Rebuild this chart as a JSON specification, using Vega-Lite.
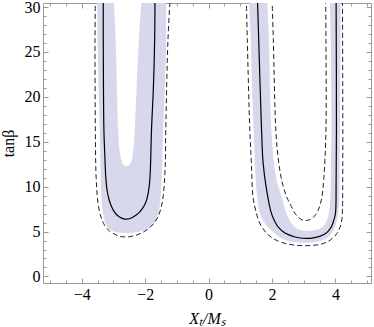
{
  "$schema": "https://vega.github.io/schema/vega-lite/v6.json",
  "width": 328,
  "height": 280,
  "autosize": {"type": "none"},
  "padding": {"left": 43, "top": 3, "right": 3, "bottom": 44},
  "background": "white",
  "config": {
    "view": {"stroke": "#9a9a9a", "strokeWidth": 1},
    "axis": {
      "domain": false,
      "grid": false,
      "tickColor": "#9a9a9a",
      "labelFont": "Liberation Serif",
      "labelFontSize": 16,
      "labelColor": "black",
      "titleFont": "Liberation Serif",
      "titleFontSize": 16,
      "titleColor": "black",
      "titleFontWeight": "normal"
    }
  },
  "datasets": {
    "shade": [
      {"g": "L", "t": 4.83, "xl": -2.62, "xr": -2.62},
      {"g": "L", "t": 4.86, "xl": -2.78, "xr": -2.44},
      {"g": "L", "t": 4.95, "xl": -2.92, "xr": -2.26},
      {"g": "L", "t": 5.1, "xl": -3.04, "xr": -2.08},
      {"g": "L", "t": 5.3, "xl": -3.13, "xr": -1.93},
      {"g": "L", "t": 5.6, "xl": -3.2, "xr": -1.81},
      {"g": "L", "t": 6.0, "xl": -3.26, "xr": -1.71},
      {"g": "L", "t": 6.5, "xl": -3.3, "xr": -1.64},
      {"g": "L", "t": 7.06, "xl": -3.33, "xr": -1.58},
      {"g": "L", "t": 8.9, "xl": -3.38, "xr": -1.51},
      {"g": "L", "t": 12, "xl": -3.41, "xr": -1.47},
      {"g": "L", "t": 16.3, "xl": -3.43, "xr": -1.43},
      {"g": "L", "t": 21, "xl": -3.47, "xr": -1.38},
      {"g": "L", "t": 26.4, "xl": -3.5, "xr": -1.34},
      {"g": "L", "t": 31, "xl": -3.51, "xr": -1.34},
      {"g": "R", "t": 3.75, "xl": 3.03, "xr": 3.03},
      {"g": "R", "t": 3.78, "xl": 2.8, "xr": 3.25},
      {"g": "R", "t": 3.88, "xl": 2.6, "xr": 3.45},
      {"g": "R", "t": 4.05, "xl": 2.43, "xr": 3.6},
      {"g": "R", "t": 4.25, "xl": 2.3, "xr": 3.72},
      {"g": "R", "t": 4.5, "xl": 2.18, "xr": 3.81},
      {"g": "R", "t": 4.8, "xl": 2.08, "xr": 3.88},
      {"g": "R", "t": 5.2, "xl": 1.95, "xr": 3.94},
      {"g": "R", "t": 5.6, "xl": 1.84, "xr": 3.99},
      {"g": "R", "t": 6.2, "xl": 1.73, "xr": 4.04},
      {"g": "R", "t": 7.0, "xl": 1.62, "xr": 4.08},
      {"g": "R", "t": 8.9, "xl": 1.53, "xr": 4.12},
      {"g": "R", "t": 12, "xl": 1.47, "xr": 4.13},
      {"g": "R", "t": 16.3, "xl": 1.42, "xr": 4.14},
      {"g": "R", "t": 22, "xl": 1.36, "xr": 4.15},
      {"g": "R", "t": 26.4, "xl": 1.33, "xr": 4.16},
      {"g": "R", "t": 31, "xl": 1.27, "xr": 4.16}
    ],
    "hole": [
      {"g": "L", "t": 12.3, "xl": -2.59, "xr": -2.59},
      {"g": "L", "t": 12.35, "xl": -2.65, "xr": -2.53},
      {"g": "L", "t": 12.5, "xl": -2.7, "xr": -2.48},
      {"g": "L", "t": 12.8, "xl": -2.74, "xr": -2.44},
      {"g": "L", "t": 13.6, "xl": -2.79, "xr": -2.39},
      {"g": "L", "t": 16.3, "xl": -2.85, "xr": -2.33},
      {"g": "L", "t": 21, "xl": -2.89, "xr": -2.27},
      {"g": "L", "t": 26.4, "xl": -2.93, "xr": -2.2},
      {"g": "L", "t": 31, "xl": -2.99, "xr": -2.11},
      {"g": "R", "t": 5.1, "xl": 3.12, "xr": 3.12},
      {"g": "R", "t": 5.13, "xl": 2.98, "xr": 3.28},
      {"g": "R", "t": 5.22, "xl": 2.86, "xr": 3.42},
      {"g": "R", "t": 5.4, "xl": 2.76, "xr": 3.54},
      {"g": "R", "t": 5.7, "xl": 2.66, "xr": 3.64},
      {"g": "R", "t": 6.1, "xl": 2.58, "xr": 3.71},
      {"g": "R", "t": 7.0, "xl": 2.46, "xr": 3.79},
      {"g": "R", "t": 8.9, "xl": 2.3, "xr": 3.84},
      {"g": "R", "t": 10.8, "xl": 2.14, "xr": 3.85},
      {"g": "R", "t": 16.3, "xl": 1.98, "xr": 3.87},
      {"g": "R", "t": 26.4, "xl": 1.9, "xr": 3.85},
      {"g": "R", "t": 31, "xl": 1.85, "xr": 3.82}
    ],
    "solid": [
      {"g": "L", "i": 1, "x": -3.32, "t": 31},
      {"g": "L", "i": 2, "x": -3.32, "t": 26.4},
      {"g": "L", "i": 3, "x": -3.3, "t": 16.3},
      {"g": "L", "i": 4, "x": -3.27, "t": 13.4},
      {"g": "L", "i": 5, "x": -3.24, "t": 11},
      {"g": "L", "i": 6, "x": -3.2, "t": 9.6},
      {"g": "L", "i": 7, "x": -3.14, "t": 8.6},
      {"g": "L", "i": 8, "x": -3.06, "t": 7.8},
      {"g": "L", "i": 9, "x": -2.97, "t": 7.2},
      {"g": "L", "i": 10, "x": -2.86, "t": 6.75},
      {"g": "L", "i": 11, "x": -2.74, "t": 6.5},
      {"g": "L", "i": 12, "x": -2.62, "t": 6.39},
      {"g": "L", "i": 13, "x": -2.48, "t": 6.45},
      {"g": "L", "i": 14, "x": -2.34, "t": 6.7},
      {"g": "L", "i": 15, "x": -2.21, "t": 7.05},
      {"g": "L", "i": 16, "x": -2.1, "t": 7.5},
      {"g": "L", "i": 17, "x": -2.01, "t": 8.0},
      {"g": "L", "i": 18, "x": -1.94, "t": 8.7},
      {"g": "L", "i": 19, "x": -1.88, "t": 9.8},
      {"g": "L", "i": 20, "x": -1.84, "t": 11.5},
      {"g": "L", "i": 21, "x": -1.8, "t": 16.3},
      {"g": "L", "i": 22, "x": -1.74, "t": 21},
      {"g": "L", "i": 23, "x": -1.7, "t": 26.4},
      {"g": "L", "i": 24, "x": -1.69, "t": 31},
      {"g": "R", "i": 1, "x": 1.54, "t": 31},
      {"g": "R", "i": 2, "x": 1.58, "t": 26.4},
      {"g": "R", "i": 3, "x": 1.67, "t": 16.3},
      {"g": "R", "i": 4, "x": 1.72, "t": 12.6},
      {"g": "R", "i": 5, "x": 1.83, "t": 9.6},
      {"g": "R", "i": 6, "x": 1.98, "t": 7.02},
      {"g": "R", "i": 7, "x": 2.12, "t": 5.9},
      {"g": "R", "i": 8, "x": 2.22, "t": 5.4},
      {"g": "R", "i": 9, "x": 2.34, "t": 5.0},
      {"g": "R", "i": 10, "x": 2.5, "t": 4.68},
      {"g": "R", "i": 11, "x": 2.7, "t": 4.42},
      {"g": "R", "i": 12, "x": 2.9, "t": 4.28},
      {"g": "R", "i": 13, "x": 3.1, "t": 4.24},
      {"g": "R", "i": 14, "x": 3.3, "t": 4.3},
      {"g": "R", "i": 15, "x": 3.5, "t": 4.46},
      {"g": "R", "i": 16, "x": 3.66, "t": 4.72},
      {"g": "R", "i": 17, "x": 3.78, "t": 5.08},
      {"g": "R", "i": 18, "x": 3.88, "t": 5.6},
      {"g": "R", "i": 19, "x": 3.95, "t": 6.3},
      {"g": "R", "i": 20, "x": 4.0, "t": 7.02},
      {"g": "R", "i": 21, "x": 4.02, "t": 10.7},
      {"g": "R", "i": 22, "x": 4.03, "t": 16.3},
      {"g": "R", "i": 23, "x": 4.02, "t": 31}
    ],
    "dashed": [
      {"g": "L", "i": 1, "x": -3.57, "t": 31},
      {"g": "L", "i": 2, "x": -3.58, "t": 26.4},
      {"g": "L", "i": 3, "x": -3.57, "t": 16.3},
      {"g": "L", "i": 4, "x": -3.55, "t": 11.5},
      {"g": "L", "i": 5, "x": -3.51, "t": 9},
      {"g": "L", "i": 6, "x": -3.45, "t": 7.4},
      {"g": "L", "i": 7, "x": -3.37, "t": 6.4},
      {"g": "L", "i": 8, "x": -3.26, "t": 5.6},
      {"g": "L", "i": 9, "x": -3.12, "t": 5.05},
      {"g": "L", "i": 10, "x": -2.96, "t": 4.7},
      {"g": "L", "i": 11, "x": -2.8, "t": 4.48},
      {"g": "L", "i": 12, "x": -2.62, "t": 4.39},
      {"g": "L", "i": 13, "x": -2.44, "t": 4.45},
      {"g": "L", "i": 14, "x": -2.26, "t": 4.62},
      {"g": "L", "i": 15, "x": -2.08, "t": 4.9},
      {"g": "L", "i": 16, "x": -1.9, "t": 5.3},
      {"g": "L", "i": 17, "x": -1.74, "t": 5.85},
      {"g": "L", "i": 18, "x": -1.6, "t": 6.6},
      {"g": "L", "i": 19, "x": -1.5, "t": 7.6},
      {"g": "L", "i": 20, "x": -1.43, "t": 9},
      {"g": "L", "i": 21, "x": -1.37, "t": 12},
      {"g": "L", "i": 22, "x": -1.35, "t": 16.3},
      {"g": "L", "i": 23, "x": -1.28, "t": 26.4},
      {"g": "L", "i": 24, "x": -1.21, "t": 31},
      {"g": "R", "i": 1, "x": 1.19, "t": 31},
      {"g": "R", "i": 2, "x": 1.22, "t": 26.4},
      {"g": "R", "i": 3, "x": 1.3, "t": 16.3},
      {"g": "R", "i": 4, "x": 1.35, "t": 12.6},
      {"g": "R", "i": 5, "x": 1.4, "t": 8.87},
      {"g": "R", "i": 6, "x": 1.51, "t": 7.02},
      {"g": "R", "i": 7, "x": 1.58, "t": 6.2},
      {"g": "R", "i": 8, "x": 1.68, "t": 5.5},
      {"g": "R", "i": 9, "x": 1.82, "t": 4.85},
      {"g": "R", "i": 10, "x": 2.0, "t": 4.3},
      {"g": "R", "i": 11, "x": 2.2, "t": 3.92},
      {"g": "R", "i": 12, "x": 2.45, "t": 3.64},
      {"g": "R", "i": 13, "x": 2.75, "t": 3.47},
      {"g": "R", "i": 14, "x": 3.03, "t": 3.42},
      {"g": "R", "i": 15, "x": 3.3, "t": 3.46},
      {"g": "R", "i": 16, "x": 3.55, "t": 3.6},
      {"g": "R", "i": 17, "x": 3.76, "t": 3.88},
      {"g": "R", "i": 18, "x": 3.92, "t": 4.3},
      {"g": "R", "i": 19, "x": 4.05, "t": 4.8},
      {"g": "R", "i": 20, "x": 4.14, "t": 5.45},
      {"g": "R", "i": 21, "x": 4.2, "t": 6.3},
      {"g": "R", "i": 22, "x": 4.22, "t": 7.5},
      {"g": "R", "i": 23, "x": 4.23, "t": 12},
      {"g": "R", "i": 24, "x": 4.23, "t": 20},
      {"g": "R", "i": 25, "x": 4.22, "t": 31},
      {"g": "Ri", "i": 1, "x": 2.0, "t": 31},
      {"g": "Ri", "i": 2, "x": 2.04, "t": 26.4},
      {"g": "Ri", "i": 3, "x": 2.12, "t": 16.3},
      {"g": "Ri", "i": 4, "x": 2.19, "t": 13.3},
      {"g": "Ri", "i": 5, "x": 2.3, "t": 10.78},
      {"g": "Ri", "i": 6, "x": 2.46, "t": 8.87},
      {"g": "Ri", "i": 7, "x": 2.61, "t": 7.8},
      {"g": "Ri", "i": 8, "x": 2.72, "t": 7.05},
      {"g": "Ri", "i": 9, "x": 2.84, "t": 6.55},
      {"g": "Ri", "i": 10, "x": 2.98, "t": 6.26},
      {"g": "Ri", "i": 11, "x": 3.12, "t": 6.25},
      {"g": "Ri", "i": 12, "x": 3.26, "t": 6.45},
      {"g": "Ri", "i": 13, "x": 3.38, "t": 6.9},
      {"g": "Ri", "i": 14, "x": 3.47, "t": 7.5},
      {"g": "Ri", "i": 15, "x": 3.56, "t": 8.6},
      {"g": "Ri", "i": 16, "x": 3.63, "t": 10.78},
      {"g": "Ri", "i": 17, "x": 3.7, "t": 16.3},
      {"g": "Ri", "i": 18, "x": 3.7, "t": 26.4},
      {"g": "Ri", "i": 19, "x": 3.69, "t": 31}
    ]
  },
  "layer": [
    {
      "data": {"name": "shade"},
      "mark": {"type": "area", "orient": "horizontal", "interpolate": "monotone", "color": "#d8d8ec", "clip": true},
      "encoding": {
        "y": {"field": "t", "type": "quantitative", "scale": {"domain": [-0.73, 30.45], "nice": false, "zero": false},
              "axis": {"orient": "left", "values": [0, 5, 10, 15, 20, 25, 30], "tickSize": -5, "labelPadding": 8, "labelFont": "Liberation Serif", "labelFontSize": 16, "title": "tanβ", "titlePadding": 8}},
        "x": {"field": "xl", "type": "quantitative", "scale": {"domain": [-5.22, 5.12], "nice": false, "zero": false},
              "axis": {"orient": "bottom", "values": [-4, -2, 0, 2, 4], "tickSize": -5, "labelPadding": 8, "labelFont": "Liberation Serif", "labelFontSize": 16, "title": "Xₜ/Mₛ", "titleFontStyle": "italic", "titlePadding": 8}},
        "x2": {"field": "xr"},
        "detail": {"field": "g"}
      }
    },
    {
      "data": {"name": "hole"},
      "mark": {"type": "area", "orient": "horizontal", "interpolate": "monotone", "color": "white", "clip": true},
      "encoding": {
        "y": {"field": "t", "type": "quantitative",
              "axis": {"orient": "left", "values": [0,1,2,3,4,5,6,7,8,9,10,11,12,13,14,15,16,17,18,19,20,21,22,23,24,25,26,27,28,29,30], "tickSize": -3, "labels": false, "title": null}},
        "x": {"field": "xl", "type": "quantitative",
              "axis": {"orient": "bottom", "values": [-5,-4.5,-4,-3.5,-3,-2.5,-2,-1.5,-1,-0.5,0,0.5,1,1.5,2,2.5,3,3.5,4,4.5,5], "tickSize": -3, "labels": false, "title": null}},
        "x2": {"field": "xr"},
        "detail": {"field": "g"}
      }
    },
    {
      "data": {"name": "dashed"},
      "mark": {"type": "line", "interpolate": "catmull-rom", "color": "#222222", "strokeWidth": 1, "strokeDash": [5, 3], "clip": true},
      "encoding": {
        "x": {"field": "x", "type": "quantitative",
              "axis": {"orient": "top", "values": [-5,-4.5,-4,-3.5,-3,-2.5,-2,-1.5,-1,-0.5,0,0.5,1,1.5,2,2.5,3,3.5,4,4.5,5], "tickSize": -3, "labels": false, "title": null}},
        "y": {"field": "t", "type": "quantitative",
              "axis": {"orient": "right", "values": [0,1,2,3,4,5,6,7,8,9,10,11,12,13,14,15,16,17,18,19,20,21,22,23,24,25,26,27,28,29,30], "tickSize": -3, "labels": false, "title": null}},
        "order": {"field": "i", "type": "quantitative"},
        "detail": {"field": "g"}
      }
    },
    {
      "data": {"name": "solid"},
      "mark": {"type": "line", "interpolate": "catmull-rom", "color": "black", "strokeWidth": 1.2, "clip": true},
      "encoding": {
        "x": {"field": "x", "type": "quantitative",
              "axis": {"orient": "top", "values": [-4, -2, 0, 2, 4], "tickSize": -5, "labels": false, "title": null}},
        "y": {"field": "t", "type": "quantitative",
              "axis": {"orient": "right", "values": [0, 5, 10, 15, 20, 25, 30], "tickSize": -5, "labels": false, "title": null}},
        "order": {"field": "i", "type": "quantitative"},
        "detail": {"field": "g"}
      }
    }
  ],
  "resolve": {"axis": {"x": "independent", "y": "independent"}}
}
